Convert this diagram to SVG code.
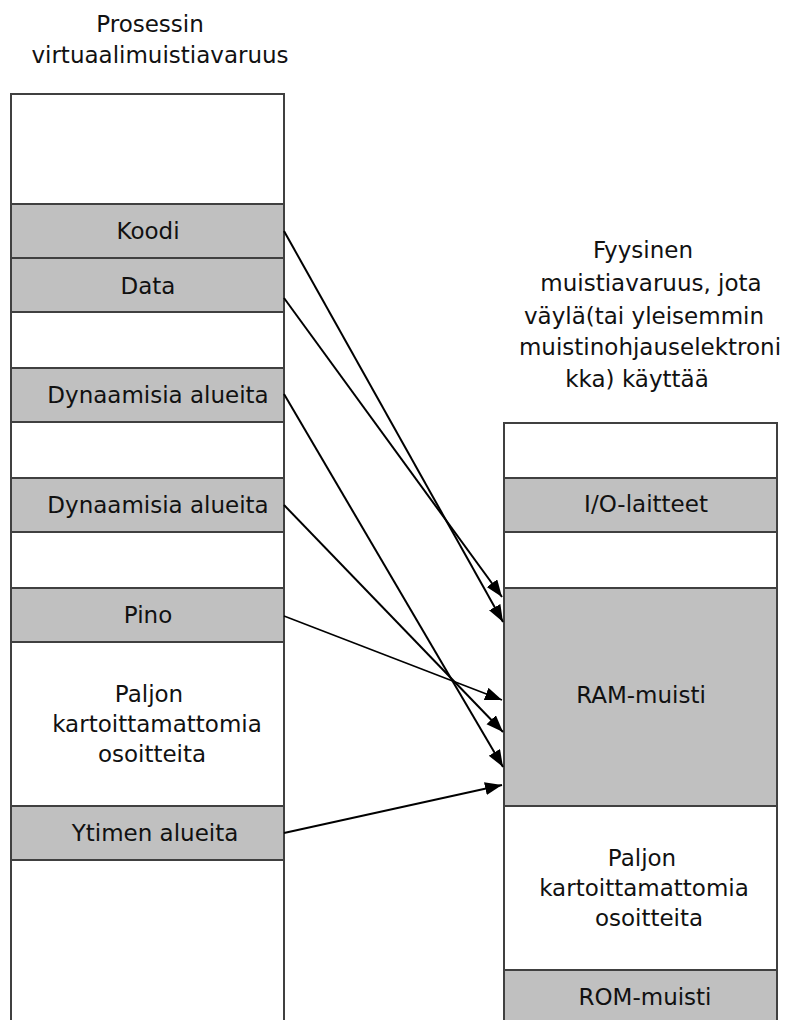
<svg xmlns="http://www.w3.org/2000/svg" width="785" height="1020" viewBox="0 0 785 1020">
<style>
  .blk { stroke: #404040; stroke-width: 2; }
  .white { fill: #ffffff; }
  .grey { fill: #c0c0c0; }
  text { font-family: "DejaVu Sans", sans-serif; font-size: 23px; fill: #111111; text-anchor: middle; }
  .conn line { stroke: #000000; stroke-width: 2; fill: none; marker-end: url(#arrow); }
</style>
<defs>
  <marker id="arrow" markerUnits="userSpaceOnUse" markerWidth="18" markerHeight="14" refX="17" refY="6.5" orient="auto">
    <path d="M0,0 L17,6.5 L0,13 z" fill="#000000"/>
  </marker>
</defs>
<rect width="785" height="1020" fill="#ffffff"/>

<g id="title-virtual">
  <text x="150" y="32">Prosessin</text>
  <text x="160" y="63">virtuaalimuistiavaruus</text>
</g>
<g id="title-physical">
  <text x="643" y="258">Fyysinen</text>
  <text x="651" y="291">muistiavaruus, jota</text>
  <text x="644" y="324">väylä(tai yleisemmin</text>
  <text x="650" y="355">muistinohjauselektroni</text>
  <text x="637" y="387">kka) käyttää</text>
</g>

<g id="virtual-space">
  <g id="v-top"><rect class="blk white" x="11" y="94" width="273" height="110"/></g>
  <g id="v-koodi"><rect class="blk grey" x="11" y="204" width="273" height="54"/><text x="148" y="239">Koodi</text></g>
  <g id="v-data"><rect class="blk grey" x="11" y="258" width="273" height="54"/><text x="148" y="294">Data</text></g>
  <g id="v-gap1"><rect class="blk white" x="11" y="312" width="273" height="56"/></g>
  <g id="v-dyn1"><rect class="blk grey" x="11" y="368" width="273" height="54"/><text x="158" y="403">Dynaamisia alueita</text></g>
  <g id="v-gap2"><rect class="blk white" x="11" y="422" width="273" height="56"/></g>
  <g id="v-dyn2"><rect class="blk grey" x="11" y="478" width="273" height="54"/><text x="158" y="513">Dynaamisia alueita</text></g>
  <g id="v-gap3"><rect class="blk white" x="11" y="532" width="273" height="56"/></g>
  <g id="v-pino"><rect class="blk grey" x="11" y="588" width="273" height="54"/><text x="148" y="623">Pino</text></g>
  <g id="v-unmapped"><rect class="blk white" x="11" y="642" width="273" height="164"/>
    <text x="149" y="702">Paljon</text>
    <text x="157" y="732">kartoittamattomia</text>
    <text x="152" y="762">osoitteita</text>
  </g>
  <g id="v-ytimen"><rect class="blk grey" x="11" y="806" width="273" height="54"/><text x="155" y="841">Ytimen alueita</text></g>
  <g id="v-bottom"><rect class="blk white" x="11" y="860" width="273" height="180"/></g>
</g>

<g id="physical-space">
  <g id="p-top"><rect class="blk white" x="504" y="423" width="273" height="55"/></g>
  <g id="p-io"><rect class="blk grey" x="504" y="478" width="273" height="54"/><text x="646" y="512">I/O-laitteet</text></g>
  <g id="p-gap"><rect class="blk white" x="504" y="532" width="273" height="56"/></g>
  <g id="p-ram"><rect class="blk grey" x="504" y="588" width="273" height="218"/><text x="641" y="703">RAM-muisti</text></g>
  <g id="p-unmapped"><rect class="blk white" x="504" y="806" width="273" height="164"/>
    <text x="642" y="866">Paljon</text>
    <text x="644" y="896">kartoittamattomia</text>
    <text x="649" y="926">osoitteita</text>
  </g>
  <g id="p-rom"><rect class="blk grey" x="504" y="970" width="273" height="70"/><text x="645" y="1005">ROM-muisti</text></g>
</g>

<g id="connectors" class="conn">
  <line x1="284" y1="231" x2="503" y2="622"/>
  <line x1="284" y1="298" x2="502" y2="597"/>
  <line x1="284" y1="394" x2="503" y2="767"/>
  <line x1="284" y1="505" x2="503" y2="732"/>
  <line x1="284" y1="616" x2="502" y2="700" style="stroke-width:1.5"/>
  <line x1="284" y1="833" x2="502" y2="785"/>
</g>
</svg>
